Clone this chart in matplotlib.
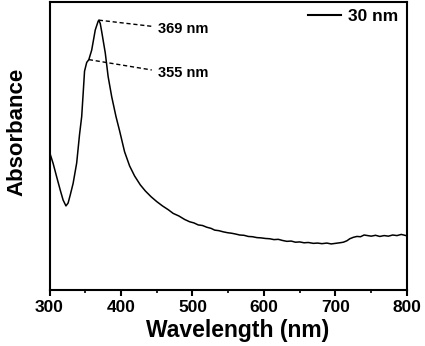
import matplotlib
matplotlib.use('Agg')
import matplotlib.pyplot as plt
import numpy as np

plt.rcParams['font.family'] = ['Liberation Sans', 'DejaVu Sans']
plt.rcParams['font.weight'] = 'bold'

# absorbance spectrum (arbitrary units)
wavelength = [300, 305, 310, 315, 319, 323, 326, 329, 333, 338, 342, 345, 347, 349,
              352, 355, 359, 364, 368, 369, 371, 373, 378, 382, 387, 393, 398, 405,
              412, 419, 427, 434, 442, 450, 458, 466, 473, 481, 489, 496, 502, 508,
              514, 520, 526, 531, 537, 543, 549, 555, 561, 566, 572, 578, 584, 590,
              596, 602, 608, 614, 620, 626, 632, 638, 644, 650, 656, 662, 669, 675,
              681, 688, 694, 700, 706, 711, 716, 720, 725, 730, 735, 740, 745, 750,
              756, 762, 768, 774, 780, 786, 792, 797, 800]
absorbance = [0.479, 0.440, 0.393, 0.347, 0.3125, 0.292, 0.302, 0.330, 0.370, 0.441,
              0.540, 0.602, 0.680, 0.760, 0.790, 0.800, 0.833, 0.903, 0.933, 0.937,
              0.925, 0.897, 0.823, 0.741, 0.671, 0.602, 0.553, 0.480, 0.431, 0.396,
              0.365, 0.344, 0.324, 0.307, 0.292, 0.279, 0.266, 0.257, 0.245, 0.237,
              0.233, 0.226, 0.224, 0.218, 0.214, 0.208, 0.206, 0.202, 0.199, 0.197,
              0.194, 0.191, 0.190, 0.186, 0.185, 0.182, 0.181, 0.179, 0.178, 0.175,
              0.176, 0.172, 0.169, 0.170, 0.166, 0.167, 0.164, 0.165, 0.162, 0.163,
              0.161, 0.163, 0.160, 0.162, 0.164, 0.166, 0.171, 0.178, 0.183, 0.186,
              0.185, 0.191, 0.189, 0.187, 0.190, 0.186, 0.189, 0.187, 0.191, 0.189,
              0.193, 0.190, 0.188]

peaks = [369, 355]
peak_abs = [0.937, 0.800]
peak_labels = ['369 nm', '355 nm']
label_pos = [(452, 0.906), (452, 0.753)]
line_end = [(445, 0.915), (443, 0.764)]

fig = plt.figure(figsize=(4.25, 3.46), dpi=100)
ax = fig.add_axes([0.1165, 0.1618, 0.8411, 0.8324])

ax.plot(wavelength, absorbance, color='k', lw=1.1, label='30 nm')

for px, pa, lab, (tx, ty), (ex, ey) in zip(peaks, peak_abs, peak_labels, label_pos, line_end):
    ax.plot([px, ex], [pa, ey], color='k', lw=1.0, ls=(0, (3, 2)))
    ax.text(tx, ty, lab, ha='left', va='center', fontsize=10.5, fontweight='bold')

ax.set_xlim(300, 800)
ax.set_ylim(0, 1)
ax.set_xticks(np.arange(300, 801, 100))
ax.set_xticks(np.arange(350, 800, 100), minor=True)
ax.set_yticks([])
ax.tick_params(axis='x', which='major', direction='out', length=4, width=1.5, labelsize=12.5, pad=3)
ax.tick_params(axis='x', which='minor', direction='out', length=2.5, width=1.2)
for lbl in ax.get_xticklabels():
    lbl.set_fontweight('bold')
for s in ax.spines.values():
    s.set_linewidth(1.5)

ax.set_xlabel('Wavelength (nm)', fontsize=16.5, fontweight='bold')
ax.set_ylabel('Absorbance', fontsize=16, fontweight='bold')
ax.xaxis.set_label_coords(0.526, -0.10)
ax.yaxis.set_label_coords(-0.063, 0.55)

leg = ax.legend(loc='upper right', bbox_to_anchor=(0.975, 0.975), frameon=False,
                prop={'weight': 'bold', 'size': 12.5}, handlelength=1.9,
                handletextpad=0.4, borderpad=0, borderaxespad=0)
leg.get_lines()[0].set_linewidth(1.5)

fig.savefig('out.png', dpi=100)
